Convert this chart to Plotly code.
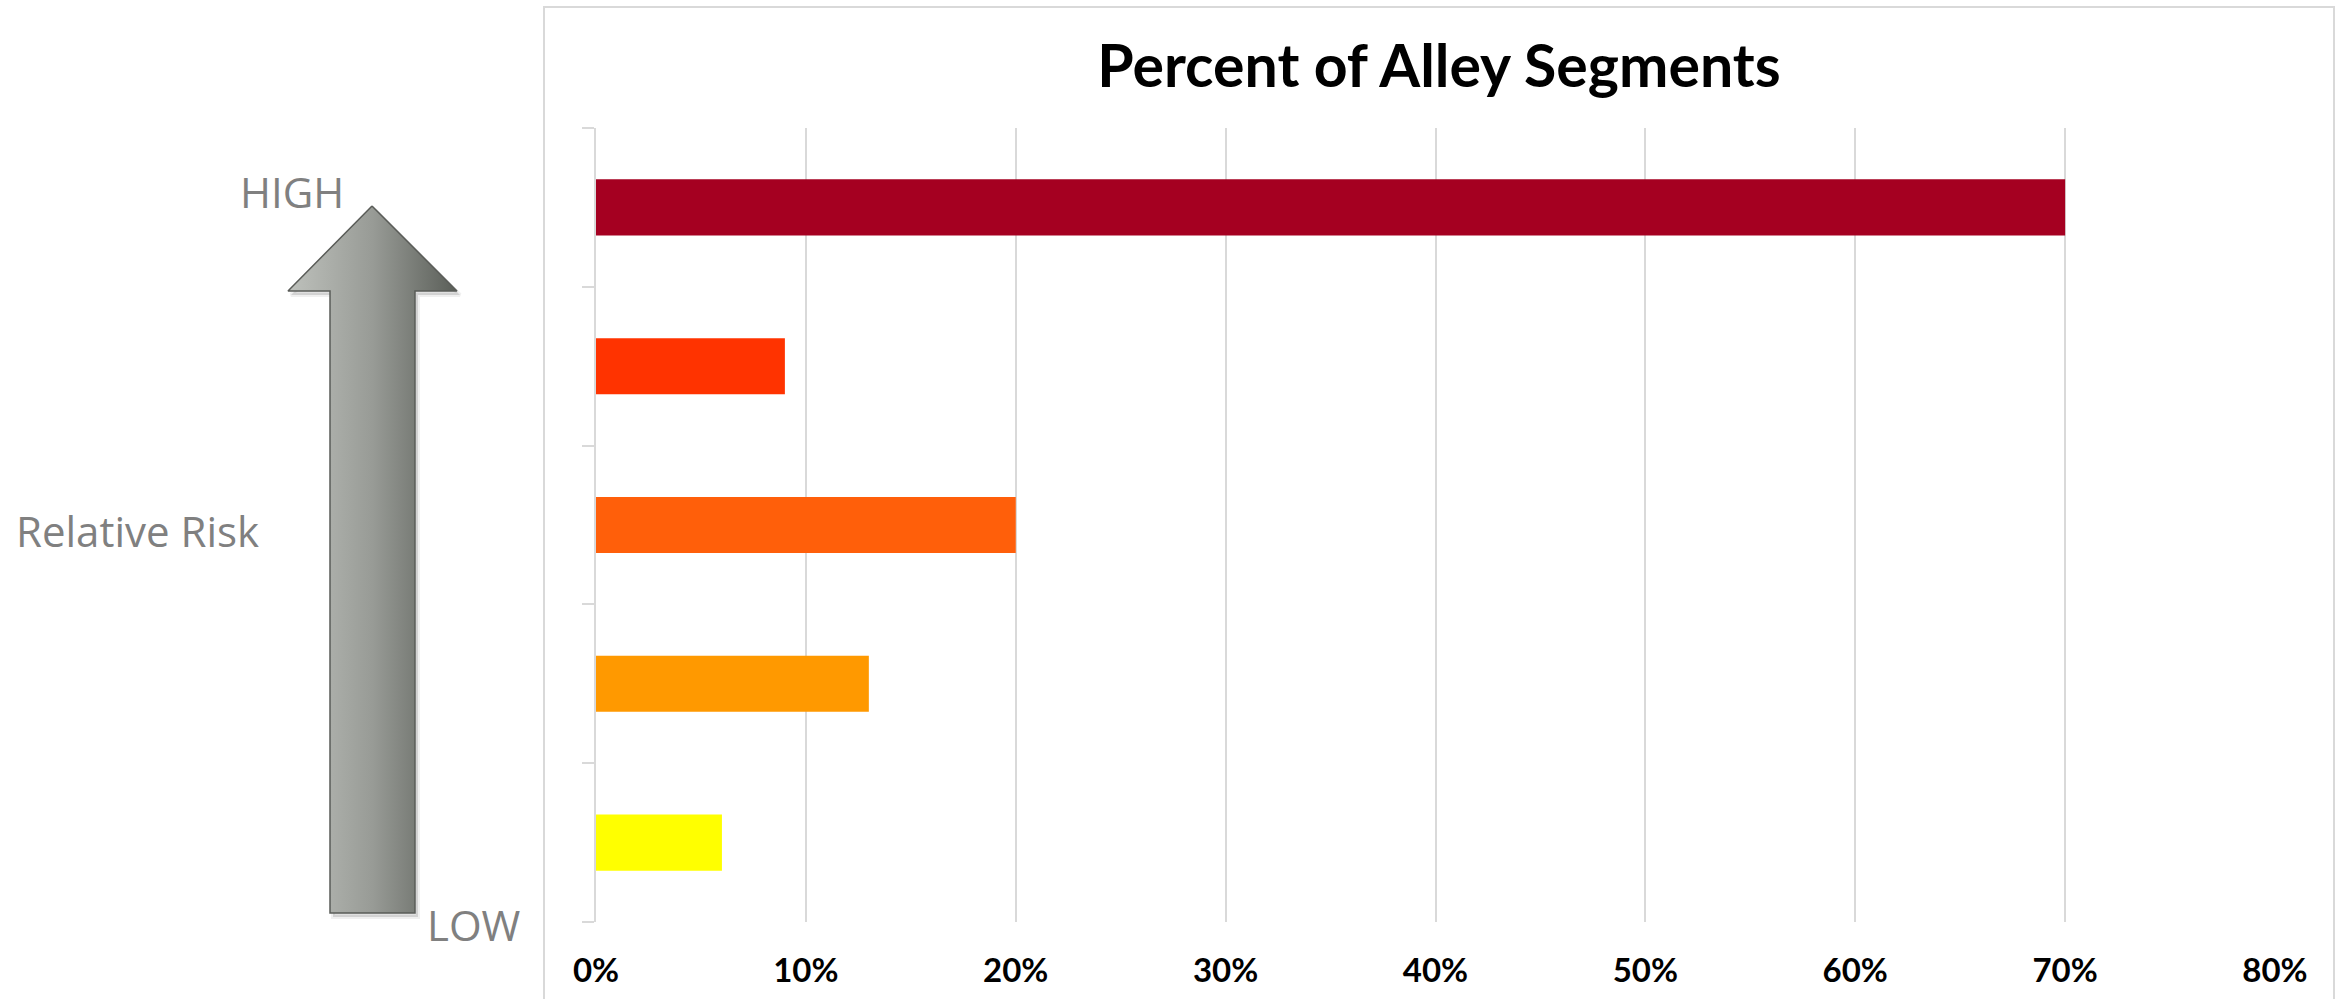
import plotly.graph_objects as go

# ---- data ----
categories = ["Level 1", "Level 2", "Level 3", "Level 4", "Level 5"]  # bottom -> top (LOW -> HIGH)
percent_values = [6, 13, 20, 9, 70]
bar_colors = ["#FFFF00", "#FF9900", "#FF5F0A", "#FF3300", "#A50021"]
x_tick_values = [0, 10, 20, 30, 40, 50, 60, 70, 80]
x_tick_labels = ["0%", "10%", "20%", "30%", "40%", "50%", "60%", "70%", "80%"]
title_text = "Percent of Alley Segments"
side_labels = {"high": "HIGH", "mid": "Relative Risk", "low": "LOW"}

W, H = 2336, 999

fig = go.Figure()

fig.add_trace(go.Bar(
    y=categories, x=percent_values, orientation="h",
    marker=dict(color=bar_colors, line=dict(width=0)),
    showlegend=False, hoverinfo="x",
))

# decorative gradient arrow (pixel coordinate overlay axes)
ax = [372, 457, 415, 415, 330, 330, 288, 372]
ay = [206, 291, 291, 913, 913, 291, 291, 206]
# soft shadow
fig.add_trace(go.Scatter(
    x=[v + 3 for v in ax], y=[v + 4 for v in ay], xaxis="x2", yaxis="y2", mode="lines",
    fill="toself", fillcolor="rgba(0,0,0,0.12)", line=dict(color="rgba(0,0,0,0.06)", width=4),
    showlegend=False, hoverinfo="skip",
))
fig.add_trace(go.Scatter(
    x=ax, y=ay, xaxis="x2", yaxis="y2", mode="lines",
    fill="toself",
    fillgradient=dict(type="horizontal",
                      colorscale=[[0, "#BEC1BC"], [0.5, "#989B96"], [1, "#5A5E58"]]),
    line=dict(color="#5A5C58", width=1.5),
    showlegend=False, hoverinfo="skip",
))

grid = "#D9D9D9"
fig.update_layout(
    width=W, height=H,
    margin=dict(l=0, r=0, t=0, b=0, pad=0),
    paper_bgcolor="white", plot_bgcolor="rgba(0,0,0,0)",
    bargap=0.647,
    title=dict(text=title_text, x=1439 / W, y=1 - 66 / H, xanchor="center", yanchor="middle",
               font=dict(family="Lato", size=59, color="black", weight="bold")),
    xaxis=dict(
        domain=[596 / W, 2275 / W], range=[0, 80], automargin=False,
        tickvals=x_tick_values, ticktext=x_tick_labels,
        showgrid=True, gridcolor=grid, gridwidth=2,
        zeroline=False, showline=False, ticks="",
        ticklabelstandoff=26,
        tickfont=dict(family="Lato", size=33, color="black", weight="bold"),
        fixedrange=True,
    ),
    yaxis=dict(
        domain=[1 - 922 / H, 1 - 128 / H], automargin=False,
        categoryorder="array", categoryarray=categories,
        showticklabels=False, showgrid=False, zeroline=False,
        showline=True, linecolor=grid, linewidth=2,
        ticks="outside", ticklen=12, tickcolor=grid, tickwidth=2,
        tickson="boundaries",
        fixedrange=True,
    ),
    xaxis2=dict(domain=[0, 1], range=[0, W], visible=False, anchor="y2", fixedrange=True, automargin=False),
    yaxis2=dict(domain=[0, 1], range=[H, 0], visible=False, anchor="x2", fixedrange=True, automargin=False),
    shapes=[dict(type="rect", xref="paper", yref="paper",
                 x0=544 / W, x1=2334 / W, y0=-0.05, y1=1 - 7 / H,
                 line=dict(color=grid, width=2), fillcolor="rgba(0,0,0,0)", layer="below")],
)

label_font = dict(family="Open Sans", size=42, color="#808080")
fig.add_annotation(text=side_labels["high"], x=292 / W, y=1 - 191 / H, xref="paper", yref="paper",
                   showarrow=False, xanchor="center", yanchor="middle", font=label_font)
fig.add_annotation(text=side_labels["mid"], x=137 / W, y=1 - 530 / H, xref="paper", yref="paper",
                   showarrow=False, xanchor="center", yanchor="middle", font=label_font)
fig.add_annotation(text=side_labels["low"], x=474 / W, y=1 - 924 / H, xref="paper", yref="paper",
                   showarrow=False, xanchor="center", yanchor="middle", font=label_font)

fig.write_html("out.html", config={"displayModeBar": False},
               post_script="document.body.style.margin='0';document.body.style.overflow='hidden';")
